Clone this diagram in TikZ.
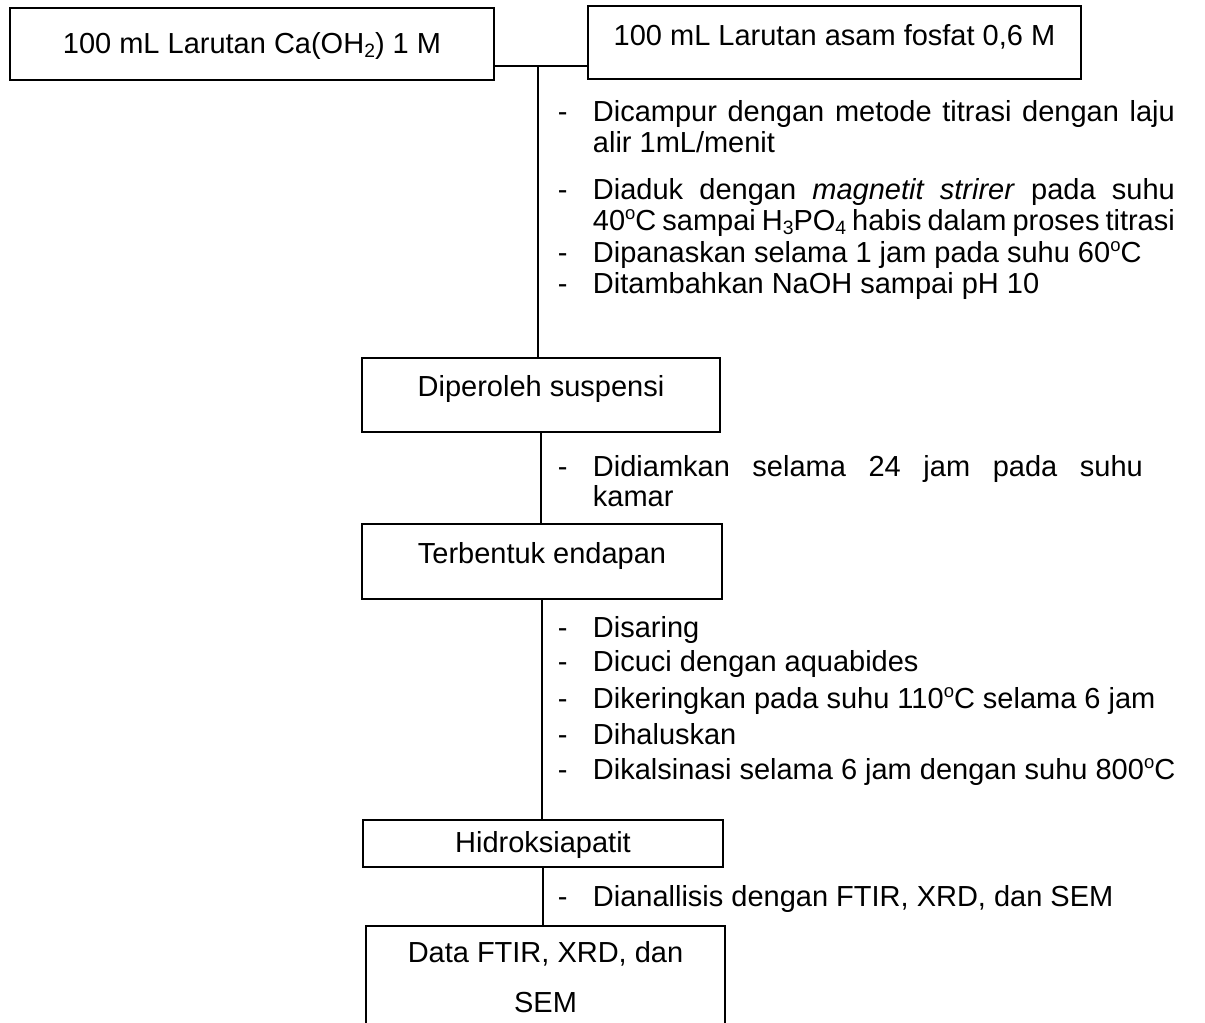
\documentclass[tikz,border=0pt]{standalone}
\usepackage{fontspec}
\setmainfont{Liberation Sans}
\newcommand\fs{\fontsize{16.5}{19}\selectfont}
\newcommand\dgc{\raisebox{6.3pt}{\fontsize{10.5}{10}\selectfont o}C}
\newcommand\lowr[1]{\raisebox{-2pt}{\fontsize{11}{11}\selectfont #1}}

\begin{document}
\begin{tikzpicture}[x=0.02cm, y=-0.02cm, line width=1.1pt,
  box/.style={draw, rectangle, inner sep=0pt, font=\fs, text height=0.42cm},
  txt/.style={anchor=base west, inner sep=0pt, font=\fs, text height=0.4cm, text depth=0.1cm},
  mid/.style={anchor=base, inner sep=0pt, font=\fs}]

  \clip (0,0) rectangle (1205,1023);
  \fill[white] (0,0) rectangle (1205,1023);

  % bahan awal
  \node[box, minimum width=9.68cm, minimum height=1.44cm, text depth=0.02cm] (caoh) at (252,44) {100 mL Larutan Ca(OH\lowr{2}) 1 M};
  \node[box, minimum width=9.86cm, minimum height=1.46cm, text depth=0.3cm] (fosfat) at (834.5,42.5) {100 mL Larutan asam fosfat 0,6 M};

  % hasil tiap tahap
  \node[box, minimum width=7.16cm, minimum height=1.48cm, text depth=0.34cm] (suspensi) at (541,395) {Diperoleh suspensi};
  \node[box, minimum width=7.2cm, minimum height=1.5cm, text depth=0.32cm] (endapan) at (542,561.5) {Terbentuk endapan};
  \node[box, minimum width=7.2cm, minimum height=0.94cm, text depth=0.04cm] (hap) at (543,843.5) {Hidroksiapatit};
  \node[box, minimum width=7.18cm, minimum height=2.8cm, anchor=north] (data) at (545.5,925) {};
  \draw (545.5,963) node[mid] (data1) {Data FTIR, XRD, dan}
    ++(0,50) node[mid] (data2) {SEM};

  % garis penghubung
  \coordinate (join) at (538,66);
  \draw (caoh.east |- join) -- (fosfat.west |- join);
  \draw (join) -- (join |- suspensi.north);
  \draw (suspensi.south) -- (suspensi.south |- endapan.north);
  \draw (endapan.south) -- (endapan.south |- hap.north);
  \draw (hap.south) -- (hap.south |- data.north);

  % perlakuan 1
  \draw (557,122) node[txt] (s1a) {-}
    (592,122) node[txt] (t1a) {\makebox[11.64cm][s]{Dicampur dengan metode titrasi dengan laju}}
    ++(0,31) node[txt] (t1b) {alir 1mL/menit};
  \draw (557,200) node[txt] (s1b) {-}
    (592,200) node[txt] (t1c) {\makebox[11.64cm][s]{Diaduk dengan \textit{magnetit strirer} pada suhu}}
    ++(0,31) node[txt] (t1d) {\makebox[11.64cm][s]{40\dgc{} sampai H\lowr{3}PO\lowr{4} habis dalam proses titrasi}};
  \draw (557,263) node[txt] (s1c) {-}
    (592,263) node[txt] (t1e) {Dipanaskan selama 1 jam pada suhu 60\dgc};
  \draw (557,294) node[txt] (s1d) {-}
    (592,294) node[txt] (t1f) {Ditambahkan NaOH sampai pH 10};

  % perlakuan 2
  \draw (557,477) node[txt] (s2a) {-}
    (592,477) node[txt] (t2a) {\makebox[11cm][s]{Didiamkan selama 24 jam pada suhu}}
    ++(0,30) node[txt] (t2b) {kamar};

  % perlakuan 3
  \draw (557,638) node[txt] (s3a) {-} (592,638) node[txt] (t3a) {Disaring};
  \draw (557,672) node[txt] (s3b) {-} (592,672) node[txt] (t3b) {Dicuci dengan aquabides};
  \draw (557,709) node[txt] (s3c) {-} (592,709) node[txt] (t3c) {Dikeringkan pada suhu 110\dgc{} selama 6 jam};
  \draw (557,745) node[txt] (s3d) {-} (592,745) node[txt] (t3d) {Dihaluskan};
  \draw (557,780) node[txt] (s3e) {-} (592,780) node[txt] (t3e) {Dikalsinasi selama 6 jam dengan suhu 800\dgc};

  % perlakuan 4
  \draw (557,907) node[txt] (s4a) {-} (592,907) node[txt] (t4a) {Dianallisis dengan FTIR, XRD, dan SEM};

\end{tikzpicture}
\end{document}
